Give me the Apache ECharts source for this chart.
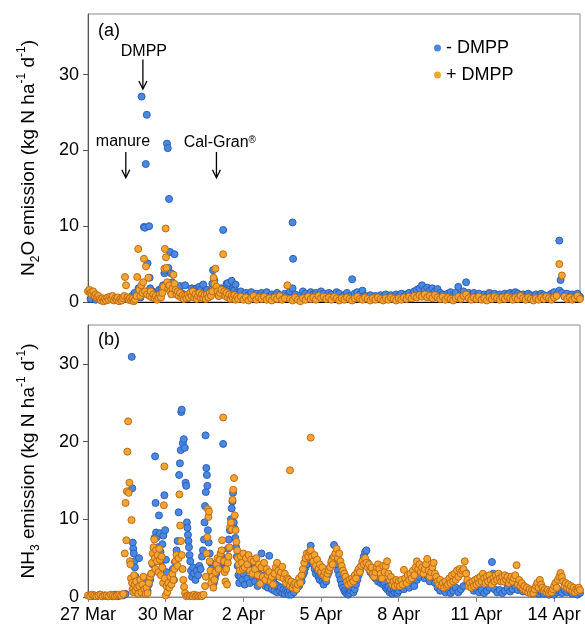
<!DOCTYPE html>
<html><head><meta charset="utf-8">
<script src="https://cdn.jsdelivr.net/npm/echarts@6/dist/echarts.min.js"></script>
<style>html,body{margin:0;padding:0;background:#fff}#c{width:585px;height:628px}</style>
</head><body><div id="c"></div><script>
// x = days since 27 Mar 00:00
const tickDays = [0, 3, 6, 9, 12, 15, 18];
const tickLabels = ['27 Mar', '30 Mar', '2 Apr', '5 Apr', '8 Apr', '11 Apr', '14 Apr'];
const yTicksA = [0, 10, 20, 30];
const yTicksB = [0, 10, 20, 30];

// ---- Panel (a) N2O ----
const n2oMinusEarly = [[0.1,0.4],[0.3,0.3],[0.5,0.5],[0.7,0.3],[0.9,0.4],[1.1,0.3],[1.3,0.5],[1.5,0.4],[1.7,0.8],[1.8,1.2],[1.9,0.6],[1.95,1.8],[2.0,1.3],[2.03,0.6],[2.07,27.1],[2.16,9.9],[2.2,9.8],[2.23,18.2],[2.27,24.7],[2.3,5.1],[2.36,10.0],[2.38,3.2],[2.4,1.8],[2.45,1.0],[2.5,1.4],[2.55,0.8],[2.6,1.2],[2.65,0.7],[2.7,1.0],[2.75,1.6],[2.8,1.2],[2.85,1.8],[2.9,2.2],[2.95,3.8],[3.0,4.2],[3.05,20.9],[3.08,20.3],[3.1,4.5],[3.13,13.6],[3.17,6.6],[3.2,3.8],[3.25,2.6],[3.3,2.2],[3.34,6.3],[3.38,1.8],[3.42,1.4],[3.46,1.0],[3.5,1.6],[3.55,2.1],[3.6,1.2],[3.65,0.8],[3.7,1.0],[3.75,2.2],[3.8,0.9],[3.85,0.5],[3.9,0.8],[3.95,1.2],[4.0,1.8],[4.05,1.0],[4.1,1.6],[4.15,1.2],[4.2,1.8],[4.25,1.4],[4.3,2.0],[4.35,1.6],[4.4,1.2],[4.45,2.3],[4.5,1.4],[4.55,1.0],[4.6,1.6],[4.65,0.8],[4.7,1.2],[4.75,1.4],[4.8,2.4],[4.83,4.2],[4.88,2.8],[4.95,1.6],[5.0,1.2],[5.05,0.8],[5.1,1.2],[5.15,1.8],[5.22,9.5],[5.28,1.6],[5.35,2.4],[5.4,2.5],[5.45,1.6],[5.5,1.4],[5.55,2.8],[5.6,1.8],[5.65,1.6],[5.7,2.3],[5.75,1.2]];
const n2oMinusLate = [1.0,1.4,0.8,1.2,0.9,1.3,0.7,1.1,0.8,1.2, 0.9,1.3,0.7,1.0,0.8,1.2,0.9,0.6,1.1,0.8, 1.4,1.8,1.0,0.6,0.9,1.4,1.1,0.8,1.3,1.0, 1.2,0.9,1.4,1.1,0.8,1.2,1.0,0.7,1.3,1.1, 0.6,0.9,1.2,0.8,3.0,1.1,1.3,1.0,1.5,0.8, 0.6,0.9,0.5,0.8,0.6,0.9,0.7,1.0,0.6,0.9, 0.7,1.0,0.8,1.1,0.7,1.0,1.2,0.9,1.4,1.6, 1.8,2.2,1.6,1.9,1.5,1.8,1.4,1.7,1.2,1.0, 0.8,1.1,1.3,0.9,1.2,2.0,1.0,1.4,2.6,1.2, 0.9,1.2,0.8,1.1,0.7,1.0,0.8,1.2,0.9,1.1, 0.8,1.0,0.7,1.1,0.9,1.2,1.0,1.3,1.1,0.9, 1.0,0.8,1.1,0.9,0.7,1.0,0.8,1.1,0.9,0.7, 0.9,1.1,1.3,0.9,1.5,1.2,0.8,1.1,0.7,1.0, 0.8,1.1,0.7];
const n2oMinusSpikes = [[7.9,10.5],[7.92,5.7],[18.2,8.1],[18.25,2.9]];

const n2oPlusEarly = [[0.0,1.4],[0.05,1.6],[0.1,1.2],[0.15,1.0],[0.2,1.4],[0.25,0.8],[0.3,1.0],[0.35,0.6],[0.4,0.8],[0.45,0.4],[0.5,0.2],[0.55,0.5],[0.6,0.1],[0.65,0.4],[0.7,0.2],[0.75,0.6],[0.8,0.3],[0.85,0.7],[0.9,0.4],[0.95,0.8],[1.0,0.2],[1.05,0.5],[1.1,0.3],[1.15,0.6],[1.2,0.1],[1.25,0.4],[1.3,0.2],[1.35,0.5],[1.4,0.8],[1.43,3.3],[1.47,2.2],[1.52,0.6],[1.57,0.3],[1.62,0.5],[1.67,0.2],[1.72,0.4],[1.77,0.1],[1.82,0.3],[1.87,0.8],[1.9,3.3],[1.94,7.0],[1.98,1.6],[2.02,0.8],[2.06,2.2],[2.1,1.2],[2.13,2.6],[2.16,5.7],[2.2,1.4],[2.24,4.7],[2.28,1.0],[2.33,3.2],[2.37,0.8],[2.42,1.4],[2.47,0.6],[2.52,1.0],[2.57,0.5],[2.62,0.8],[2.67,0.3],[2.72,0.6],[2.77,1.0],[2.82,0.6],[2.87,1.2],[2.92,2.0],[2.95,4.4],[2.97,7.0],[3.0,9.7],[3.01,5.9],[3.03,4.5],[3.06,2.6],[3.1,1.8],[3.14,2.2],[3.18,1.4],[3.22,1.0],[3.26,1.8],[3.3,3.6],[3.34,2.4],[3.38,1.6],[3.42,1.0],[3.46,1.4],[3.5,0.8],[3.55,1.2],[3.6,0.6],[3.65,0.9],[3.7,0.4],[3.75,0.8],[3.8,0.5],[3.85,1.0],[3.9,0.6],[3.95,1.2],[4.0,0.8],[4.05,1.4],[4.1,0.6],[4.15,1.0],[4.2,0.4],[4.25,0.8],[4.3,1.2],[4.35,0.6],[4.4,1.0],[4.45,0.5],[4.5,0.9],[4.55,0.4],[4.6,1.0],[4.65,0.6],[4.7,1.2],[4.75,0.8],[4.8,1.4],[4.85,3.2],[4.88,2.4],[4.92,4.4],[4.96,2.0],[5.0,1.4],[5.05,0.8],[5.1,1.2],[5.15,1.6],[5.22,6.3],[5.26,1.4],[5.3,0.8],[5.35,1.2],[5.4,0.6],[5.45,1.0],[5.5,0.4],[5.55,0.8],[5.6,0.5],[5.65,0.9],[5.7,0.3],[5.75,0.7]];
const n2oPlusLate = [0.4,0.7,0.3,0.6,0.2,0.5,0.8,0.3,0.6,0.4, 0.7,0.3,0.5,0.2,0.6,0.4,0.8,0.3,0.5,2.2, 0.4,0.2,0.6,0.3,0.1,0.5,0.3,0.7,0.4,0.6, 0.3,0.8,0.5,0.7,0.4,0.6,0.3,0.7,0.5,0.2, 0.5,0.3,0.6,0.4,0.2,0.5,0.7,0.4,0.3,0.6, 0.4,0.2,0.5,0.3,0.6,0.4,0.2,0.5,0.3,0.6, 0.4,0.2,0.5,0.3,0.6,0.4,0.7,0.5,0.8,0.6, 0.9,0.7,1.0,0.6,0.8,0.5,0.9,0.6,0.4,0.7, 0.3,0.6,0.4,0.2,0.5,0.7,0.4,0.8,1.0,0.5, 0.3,0.6,0.4,0.7,0.3,0.5,0.2,0.6,0.4,0.7, 0.5,0.3,0.6,0.4,0.7,0.5,0.3,0.6,0.4,0.8, 0.5,0.3,0.6,0.4,0.2,0.5,0.3,0.6,0.4,0.7, 0.5,0.3,0.6,0.8,5.0,3.5,0.7,0.4,0.6,0.3, 0.5,0.8,0.4];

// ---- Panel (b) NH3 ----
const nh3MinusEarly = [[0.05,0.2],[0.15,0.1],[0.25,0.2],[0.35,0.1],[0.45,0.3],[0.55,0.1],[0.65,0.2],[0.75,0.1],[0.85,0.2],[0.95,0.1],[1.05,0.3],[1.15,0.1],[1.25,0.2],[1.35,0.2],[1.45,0.4],[1.69,30.9],[1.71,14.0],[1.73,7.0],[1.75,6.2],[1.77,5.6],[1.79,4.6],[1.81,3.8],[1.84,2.6],[1.87,1.8],[1.9,1.2],[1.94,0.9],[1.97,5.0],[2.0,0.6],[2.04,1.4],[2.08,0.7],[2.12,1.9],[2.16,1.1],[2.2,0.5],[2.25,1.3],[2.3,0.8],[2.35,1.6],[2.4,2.2],[2.45,3.0],[2.5,4.2],[2.54,5.6],[2.57,7.6],[2.59,18.1],[2.61,12.1],[2.63,8.3],[2.66,7.7],[2.7,6.4],[2.74,10.5],[2.77,8.2],[2.8,5.8],[2.83,4.6],[2.87,6.8],[2.91,7.9],[2.95,13.1],[2.98,8.6],[3.01,4.8],[3.04,3.2],[3.08,2.0],[3.12,1.2],[3.16,2.4],[3.2,1.6],[3.24,2.8],[3.28,3.6],[3.32,2.2],[3.36,4.5],[3.42,6.0],[3.46,7.2],[3.5,10.9],[3.52,15.7],[3.55,17.2],[3.58,18.9],[3.6,23.8],[3.62,24.1],[3.66,19.8],[3.7,20.3],[3.74,19.2],[3.77,14.7],[3.79,14.3],[3.82,9.6],[3.84,8.9],[3.86,8.0],[3.88,7.2],[3.9,6.4],[3.92,5.4],[3.95,4.6],[3.98,3.4],[4.02,2.6],[4.06,3.8],[4.1,3.0],[4.15,2.2],[4.2,3.4],[4.25,2.8],[4.3,4.0],[4.35,3.6],[4.4,5.2],[4.44,6.0],[4.48,7.4],[4.5,9.6],[4.52,11.7],[4.54,20.8],[4.55,13.5],[4.57,16.6],[4.59,15.7],[4.61,14.3],[4.63,8.6],[4.66,7.0],[4.7,5.6],[4.74,4.4],[4.78,3.6],[4.82,2.6],[4.86,1.8],[4.9,2.4],[4.95,3.0],[5.0,3.8],[5.05,4.2],[5.1,4.8],[5.15,5.2],[5.22,19.7],[5.25,4.4],[5.3,3.6],[5.35,4.8],[5.4,6.2],[5.44,7.4],[5.48,8.6],[5.52,10.0],[5.55,11.4],[5.58,12.3],[5.6,13.4],[5.63,9.6],[5.66,8.8],[5.69,7.6],[5.72,6.4],[5.75,5.2],[5.78,4.0],[5.81,2.8],[5.84,1.8],[5.88,2.6],[5.92,3.4],[5.96,2.2]];
const nh3MinusMid = [3.0,1.6,3.8,2.4,4.2,1.8,3.4,2.6,4.4,2.0, 3.2,1.4,3.6,2.2,5.6,1.8,2.8,1.4,2.4,1.2, 5.3,1.8,1.0,2.2,0.8,1.6,0.6,1.4,0.8,1.2, 0.5,1.0,0.4,0.9,0.6,0.3,0.8,0.3,1.0,0.6, 1.4,1.0,1.8,1.4,2.4,2.0,2.8,3.2,3.8,4.2, 4.8,5.4,6.6,5.0,4.2,3.6,3.0,3.4,2.6,2.2, 2.8,2.0,1.6,2.4,2.0,2.8,3.2,3.8,4.4,5.0, 6.7,5.2,4.2,3.4,2.8,2.2,1.6,1.2,0.8,0.6, 0.4,0.3,0.5,0.8,1.2,0.6,1.0,1.6,2.2,2.8, 3.4,4.0,4.6,5.2,5.8,6.0,4.4,3.8,3.2,3.6, 2.8,3.0,2.4,2.6,2.0,2.4,1.8,2.2,1.6,1.8, 1.2,1.0,1.3,0.6,1.0,0.4,0.8,0.6,1.0,0.5];
const nh3MinusLate = [0.8,1.2,1.0,1.6,1.2,1.8,1.4,2.2,2.6,3.7, 2.4,2.8,2.0,2.6,1.8,1.2,0.8,1.2,0.6,1.0, 0.5,0.8,1.2,0.6,1.0,1.4,3.1,1.6,1.2,0.8, 1.0,0.6,0.9,0.5,0.8,1.2,4.5,1.0,0.6,0.9, 0.5,0.8,1.2,0.7,1.0,1.4,0.9,1.2,0.7,1.0, 0.6,0.9,0.5,0.8,0.4,0.7,0.4,0.6,0.3,0.5, 0.3,0.6,0.8,0.5,0.9,0.6,0.8,0.4,0.6,0.3,0.5];
const nh3MinusExtra = [[14.65,2.0],[15.65,3.0]];

const nh3PlusEarly = [[0.0,0.2],[0.08,0.1],[0.16,0.3],[0.24,0.2],[0.32,0.1],[0.4,0.2],[0.48,0.3],[0.56,0.1],[0.64,0.2],[0.72,0.2],[0.8,0.1],[0.88,0.3],[0.96,0.2],[1.04,0.1],[1.12,0.2],[1.2,0.3],[1.28,0.2],[1.36,0.4],[1.42,5.6],[1.45,12.1],[1.48,7.3],[1.5,13.6],[1.52,18.7],[1.55,22.6],[1.57,13.4],[1.6,14.7],[1.62,4.6],[1.64,4.2],[1.66,2.4],[1.68,9.9],[1.7,1.8],[1.72,1.0],[1.75,0.6],[1.78,2.8],[1.8,1.6],[1.83,0.8],[1.86,2.0],[1.9,1.2],[1.94,0.4],[1.98,1.4],[2.02,2.2],[2.06,0.6],[2.1,1.6],[2.14,2.6],[2.18,1.0],[2.22,0.4],[2.26,1.2],[2.3,0.5],[2.35,1.8],[2.4,2.6],[2.44,3.0],[2.47,4.4],[2.5,5.6],[2.53,6.4],[2.56,7.4],[2.58,5.0],[2.6,3.6],[2.63,6.0],[2.66,4.6],[2.69,5.4],[2.72,3.2],[2.75,6.2],[2.78,4.8],[2.81,2.8],[2.84,5.2],[2.87,3.8],[2.9,1.8],[2.93,11.8],[2.95,16.8],[2.97,2.4],[3.0,0.2],[3.03,1.4],[3.06,0.6],[3.1,1.8],[3.14,1.2],[3.18,2.6],[3.22,1.6],[3.26,3.0],[3.3,2.2],[3.34,3.6],[3.38,4.6],[3.42,5.4],[3.46,4.0],[3.5,5.0],[3.53,13.2],[3.56,9.2],[3.59,7.2],[3.62,5.4],[3.65,3.6],[3.68,2.2],[3.71,1.3],[3.75,0.5],[3.8,0.1],[3.86,0.2],[3.92,0.1],[3.98,0.2],[4.04,0.1],[4.1,0.3],[4.16,0.1],[4.22,0.2],[4.28,0.1],[4.34,0.2],[4.4,0.1],[4.46,0.3],[4.52,1.4],[4.55,2.6],[4.58,5.6],[4.61,7.7],[4.63,11.3],[4.65,10.3],[4.67,11.0],[4.7,4.6],[4.73,3.4],[4.76,1.8],[4.8,2.6],[4.84,1.2],[4.88,2.2],[4.92,3.2],[4.96,4.2],[5.0,5.0],[5.04,3.6],[5.08,4.8],[5.12,5.6],[5.16,6.0],[5.18,7.3],[5.22,23.1],[5.25,4.6],[5.28,3.2],[5.31,2.0],[5.34,3.6],[5.37,1.6],[5.4,4.4],[5.43,5.2],[5.46,6.4],[5.49,9.0],[5.52,9.6],[5.55,8.7],[5.58,12.5],[5.61,13.8],[5.64,15.3],[5.67,10.5],[5.7,8.6],[5.73,7.1],[5.76,6.0],[5.79,5.0],[5.82,4.2],[5.86,3.4],[5.9,5.2],[5.94,4.4],[5.98,3.6]];
const nh3PlusMid = [5.6,3.8,5.0,4.2,5.4,3.4,4.8,3.0,4.6,3.6, 5.0,2.8,4.2,1.7,3.8,2.6,4.4,2.2,3.6,2.8, 3.2,2.0,2.6,1.6,3.0,3.8,4.4,3.4,2.6,3.2, 3.9,2.4,3.0,1.8,2.4,2.2,1.4,2.0,1.2,1.6, 1.8,1.0,1.6,2.4,1.8,2.8,3.6,4.4,5.0,5.6, 5.2,5.8,6.0,5.2,4.6,5.4,4.0,4.8,3.6,4.2, 3.2,3.8,2.8,3.2,2.4,3.0,3.4,3.8,4.6,4.2, 5.2,5.6,6.2,5.0,5.6,4.6,4.0,3.4,3.0,2.6, 2.0,1.6,2.2,1.8,2.4,2.0,2.8,2.4,3.2,3.6, 3.2,4.0,4.6,4.2,5.0,4.4,3.8,4.2,3.4,3.8, 3.0,2.6,3.2,3.8,4.2,3.6,3.0,2.4,4.0,3.2, 4.0,4.6,3.0,2.2,2.6,1.6,2.0,1.4,2.2,1.6];
const nh3PlusLate = [2.0,1.4,2.2,1.6,3.5,2.4,1.8,2.8,2.2,3.0, 2.4,3.4,2.8,3.8,4.6,3.6,4.2,3.2,3.8,3.0, 3.6,4.2,4.9,3.4,2.6,3.2,3.8,4.4,3.0,2.6, 2.0,1.6,2.2,1.4,1.8,1.2,2.0,1.4,1.6,2.4, 1.8,2.8,2.0,3.0,2.2,3.4,2.6,3.6,3.0,3.4, 3.6,4.6,3.0,2.2,1.4,1.8,1.2,2.0,1.4,2.2, 1.6,2.4,1.8,2.6,2.0,3.0,2.4,1.8,2.6,2.0, 2.8,2.2,1.6,2.4,2.0,2.8,2.2,3.0,2.4,2.0, 2.6,2.0,2.8,2.2,2.6,1.8,2.2,2.6,2.0,2.4, 2.8,4.1,1.6,2.2,1.4,1.8,1.0,1.4,0.8,1.2, 0.6,1.0,0.5,0.9,0.5,1.0,1.4,1.8,1.2,2.2, 1.6,1.2,0.8,1.0,0.6,0.9,0.5,0.8,0.6,1.0, 1.4,1.8,1.2,2.2,2.6,3.1,2.6,2.0,1.4,1.8, 1.2,1.6,1.0,1.4,0.8,1.2,0.6,1.0,0.8,1.2,0.9];
const nh3PlusSpikes = [[7.8,16.3],[8.6,20.5]];

function seq(start, step, vals) {
  return vals.map((v, i) => [Math.round((start + i * step) * 1000) / 1000, v]);
}

const n2oMinus = n2oMinusEarly.concat(seq(5.8, 0.1, n2oMinusLate), n2oMinusSpikes);
const n2oPlus = n2oPlusEarly.concat(seq(5.8, 0.1, n2oPlusLate));
const nh3Minus = nh3MinusEarly.concat(seq(6.0, 0.05, nh3MinusMid), seq(12.0, 0.1, nh3MinusLate), nh3MinusExtra);
const nh3Plus = nh3PlusEarly.concat(seq(6.0, 0.05, nh3PlusMid), seq(12.0, 0.05, nh3PlusLate), nh3PlusSpikes);

const BLUE = '#4a89e3', BLUE_B = '#2c60b6';
const ORANGE = '#f2a531', ORANGE_B = '#c06a16';
const FONT = 'Liberation Sans, Arial, sans-serif';

function yName(gas) {
  return '{t|' + gas[0] + '}{s|' + gas[1] + '}{t|' + gas[2] + ' emission (kg N ha}{p|-1}{t| d}{p|-1}{t|)}';
}
const nameRich = {
  t: { fontSize: 19, lineHeight: 26, verticalAlign: 'middle', fontFamily: FONT, color: '#000' },
  s: { fontSize: 12, lineHeight: 12, verticalAlign: 'bottom', fontFamily: FONT, color: '#000' },
  p: { fontSize: 12, lineHeight: 12, verticalAlign: 'top', fontFamily: FONT, color: '#000' }
};

function scatter(name, data, idx, fill, border) {
  return {
    type: 'scatter', name: name, xAxisIndex: idx, yAxisIndex: idx, data: data,
    symbol: 'circle', symbolSize: 7,
    itemStyle: { color: fill, borderColor: border, borderWidth: 1, opacity: 1 },
    emphasis: { disabled: true }, silent: true
  };
}

function yAxis(idx, max, ticks, gas) {
  return {
    gridIndex: idx, type: 'value', min: 0, max: max, interval: 10,
    axisLine: { show: true, lineStyle: { color: '#555', width: 1 } },
    axisTick: { show: true, inside: false, length: 5, lineStyle: { color: '#555' }, customValues: ticks },
    axisLabel: { fontSize: 18, color: '#000', fontFamily: FONT, margin: 9, customValues: ticks },
    splitLine: { show: false },
    name: yName(gas), nameLocation: 'middle', nameRotate: 90, nameGap: 46,
    nameTextStyle: { rich: nameRich }
  };
}

const chart = echarts.init(document.getElementById('c'), null, { renderer: 'canvas' });
chart.setOption({
  animation: false,
  backgroundColor: '#fff',
  grid: [
    { left: 88, top: 14, width: 492, height: 288, show: true, borderColor: '#8a8a8a', borderWidth: 1, backgroundColor: 'transparent' },
    { left: 88, top: 325, width: 492, height: 272, show: true, borderColor: '#8a8a8a', borderWidth: 1, backgroundColor: 'transparent' }
  ],
  xAxis: [
    { gridIndex: 0, type: 'value', min: 0, max: 19, interval: 3,
      axisLine: { show: true, onZero: false, lineStyle: { color: '#000', width: 1.2 } },
      axisTick: { show: false }, axisLabel: { show: false }, splitLine: { show: false } },
    { gridIndex: 1, type: 'value', min: 0, max: 19, interval: 3,
      axisLine: { show: true, onZero: false, lineStyle: { color: '#888', width: 1.2 } },
      axisTick: { show: true, length: 5, lineStyle: { color: '#888' }, customValues: tickDays },
      axisLabel: { fontSize: 18, color: '#000', fontFamily: FONT, margin: 9, customValues: tickDays,
        formatter: function (v) { const i = tickDays.indexOf(Math.round(v)); return i >= 0 ? tickLabels[i] : ''; } },
      splitLine: { show: false } }
  ],
  yAxis: [
    yAxis(0, 38, yTicksA, ['N', '2', 'O']),
    yAxis(1, 35, yTicksB, ['NH', '3', ''])
  ],
  legend: {
    data: [
      { name: '- DMPP', itemStyle: { color: BLUE, borderWidth: 0 } },
      { name: '+ DMPP', itemStyle: { color: ORANGE, borderWidth: 0 } }
    ],
    orient: 'vertical', left: 429, top: 34, itemWidth: 7, itemHeight: 7, itemGap: 9, icon: 'circle',
    textStyle: { fontSize: 18, color: '#000', fontFamily: FONT }, selectedMode: false
  },
  series: [
    scatter('- DMPP', n2oMinus, 0, BLUE, BLUE_B),
    scatter('+ DMPP', n2oPlus, 0, ORANGE, ORANGE_B),
    scatter('- DMPP', nh3Minus, 1, BLUE, BLUE_B),
    scatter('+ DMPP', nh3Plus, 1, ORANGE, ORANGE_B)
  ]
});

// annotations placed in data coordinates of panel (a)
const annotations = [
  { text: 'DMPP', tx: 2.16, ty: 33.0, ax: 2.12, ay1: 32.0, ay2: 28.1 },
  { text: 'manure', tx: 1.35, ty: 21.1, ax: 1.46, ay1: 19.8, ay2: 16.4 },
  { text: 'Cal-Gran{r|®}', tx: 5.09, ty: 21.0, ax: 4.96, ay1: 19.8, ay2: 16.4 }
];
const g = [];
annotations.forEach(function (a) {
  const t = chart.convertToPixel({ gridIndex: 0 }, [a.tx, a.ty]);
  const p1 = chart.convertToPixel({ gridIndex: 0 }, [a.ax, a.ay1]);
  const p2 = chart.convertToPixel({ gridIndex: 0 }, [a.ax, a.ay2]);
  g.push({ type: 'text', x: t[0], y: t[1], style: { text: a.text, fontSize: 16, fontFamily: FONT, fill: '#000', align: 'center', verticalAlign: 'middle',
    rich: { r: { fontSize: 10, verticalAlign: 'top', lineHeight: 10, fontFamily: FONT, fill: '#000' } } } });
  g.push({ type: 'line', shape: { x1: p1[0], y1: p1[1], x2: p2[0], y2: p2[1] - 1 }, style: { stroke: '#000', lineWidth: 1.3 } });
  g.push({ type: 'polyline', shape: { points: [[p2[0] - 4, p2[1] - 8], [p2[0], p2[1]], [p2[0] + 4, p2[1] - 8]] }, style: { stroke: '#000', lineWidth: 1.3, fill: null } });
});
g.push({ type: 'text', x: 98, y: 31, style: { text: '(a)', fontSize: 18, fontFamily: FONT, fill: '#000', verticalAlign: 'middle' } });
g.push({ type: 'text', x: 98, y: 340, style: { text: '(b)', fontSize: 18, fontFamily: FONT, fill: '#000', verticalAlign: 'middle' } });
chart.setOption({ graphic: g });
</script></body></html>
